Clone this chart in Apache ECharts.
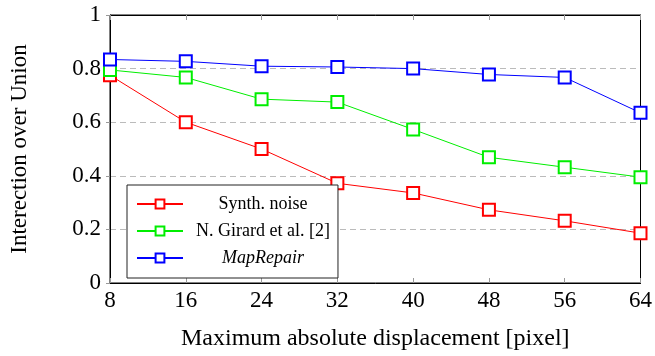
<!DOCTYPE html>
<html><head><meta charset="utf-8">
<script src="https://cdn.jsdelivr.net/npm/echarts@6/dist/echarts.min.js"></script>
<style>html,body{margin:0;padding:0;background:#fff}#c{width:655px;height:356px}</style>
</head><body><div id="c"></div>
<script>
const categories = [8, 16, 24, 32, 40, 48, 56, 64];
const synthNoise = [0.775, 0.600, 0.500, 0.372, 0.336, 0.273, 0.232, 0.186];
const girard = [0.795, 0.767, 0.686, 0.675, 0.573, 0.469, 0.432, 0.395];
const mapRepair = [0.834, 0.827, 0.809, 0.806, 0.800, 0.778, 0.767, 0.635];
const yTicks = [0, 0.2, 0.4, 0.6, 0.8, 1];

const font = '"Liberation Serif", "DejaVu Serif", serif';
const chart = echarts.init(document.getElementById('c'));
function mk(name, data, color) {
  return {
    name, type: 'line', data: categories.map((x, i) => [x, data[i]]),
    symbol: 'emptyRect', symbolSize: 12, showAllSymbol: true,
    lineStyle: { color, width: 1 }, itemStyle: { color, borderColor: color, borderWidth: 0.7 },
    emphasis: { disabled: true }, z: 2
  };
}
chart.setOption({
  animation: false,
  textStyle: { fontFamily: font },
  grid: { left: 110, right: 13, top: 15, bottom: 70, show: true, borderColor: '#000', borderWidth: 1, backgroundColor: 'transparent' },
  xAxis: [{
    type: 'value', min: 8, max: 64, interval: 8,
    name: 'Maximum absolute displacement [pixel]', nameLocation: 'middle', nameGap: 44,
    nameTextStyle: { fontFamily: font, fontSize: 24, color: '#000' },
    axisLine: { show: true, onZero: false, lineStyle: { color: '#000', width: 1 } },
    axisTick: { show: true, inside: true, length: 5, lineStyle: { color: '#999' } },
    axisLabel: { fontFamily: font, fontSize: 23, color: '#000', margin: 6 },
    splitLine: { show: false }
  }, {
    type: 'value', min: 8, max: 64, interval: 8, position: 'top', show: true,
    axisLine: { show: true, onZero: false, lineStyle: { color: '#000', width: 1 } },
    axisTick: { show: true, inside: true, length: 5, lineStyle: { color: '#999' } },
    axisLabel: { show: false }, splitLine: { show: false }
  }],
  yAxis: [{
    type: 'value', min: 0, max: 1, interval: 0.2,
    name: 'Interection over Union', nameLocation: 'middle', nameGap: 79,
    nameTextStyle: { fontFamily: font, fontSize: 23, color: '#000' },
    axisLine: { show: true, onZero: false, lineStyle: { color: '#000', width: 1 } },
    axisTick: { show: true, inside: false, length: 4, lineStyle: { color: '#999' } },
    axisLabel: { fontFamily: font, fontSize: 23, color: '#000', margin: 9,
      formatter: v => (v === 0 || v === 1) ? String(v) : v.toFixed(1) },
    splitLine: { show: true, lineStyle: { color: '#bbb', type: [6, 4], width: 1 } }
  }, {
    type: 'value', min: 0, max: 1, interval: 0.2, position: 'right', show: true,
    axisLine: { show: true, onZero: false, lineStyle: { color: '#000', width: 1 } },
    axisTick: { show: false }, axisLabel: { show: false }, splitLine: { show: false }
  }],
  legend: {
    orient: 'vertical', left: 127, top: 185,
    backgroundColor: '#fff', borderColor: '#222', borderWidth: 1,
    padding: [10, 8, 11, 9], itemGap: 9, itemWidth: 46, itemHeight: 11,
    textStyle: { fontFamily: font, fontSize: 18, color: '#000',
      rich: {
        n: { fontFamily: font, fontSize: 18, width: 150, align: 'center' },
        i: { fontFamily: font, fontSize: 18, fontStyle: 'italic', width: 150, align: 'center' }
      }
    },
    formatter: n => n === 'MapRepair' ? '{i|' + n + '}' : '{n|' + n + '}',
    data: ['Synth. noise', 'N. Girard et al. [2]', 'MapRepair']
  },
  series: [
    mk('Synth. noise', synthNoise, '#ff0000'),
    mk('N. Girard et al. [2]', girard, '#00ee00'),
    mk('MapRepair', mapRepair, '#0000ff'),
    { type: 'line', xAxisIndex: 1, yAxisIndex: 1, data: [], silent: true }
  ]
});
</script></body></html>
